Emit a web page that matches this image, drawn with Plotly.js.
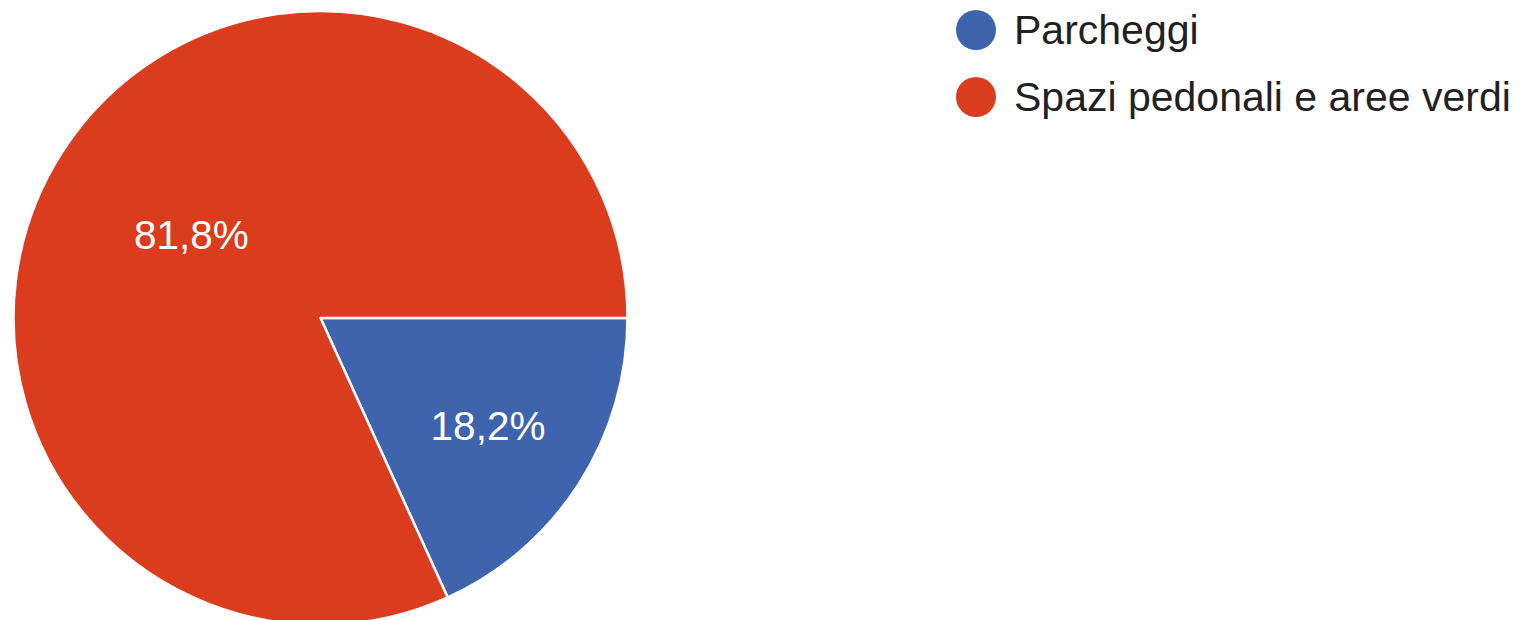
<!DOCTYPE html>
<html>
<head>
<meta charset="utf-8">
<script src="https://cdn.plot.ly/plotly-3.0.1.min.js"></script>
<style>
html, body { margin: 0; padding: 0; overflow: hidden; background: #fff; }
#chart { width: 1525px; height: 626px; }
</style>
</head>
<body>
<div id="chart"></div>
<script>
const labels = ["Parcheggi", "Spazi pedonali e aree verdi"];
const values = [18.2, 81.8];
const colors = ["#3d64ad", "#db3c1d"];

const sliceText = values.map(v => v.toFixed(1).replace('.', ',') + '%');

const W = 1525, H = 626;
const trace = {
  type: 'pie',
  labels: labels,
  values: values,
  text: sliceText,
  textinfo: 'text',
  textposition: 'inside',
  insidetextorientation: 'horizontal',
  sort: false,
  direction: 'clockwise',
  rotation: 90,
  marker: { colors: colors, line: { color: '#ffffff', width: 2.5 } },
  textfont: { family: 'Liberation Sans, Arial, sans-serif', size: 40.5, color: '#ffffff' },
  domain: { x: [13 / W, 628 / W], y: [1 - 625 / H, 1 - 11 / H] },
  showlegend: false,
  hoverinfo: 'label+percent'
};

const shapes = [];
const annotations = [];
const legendX = 976, legendY0 = 30, legendStep = 67, r = 20;
labels.forEach((lab, i) => {
  const cy = legendY0 + i * legendStep;
  shapes.push({
    type: 'circle', xref: 'paper', yref: 'paper',
    xsizemode: 'pixel', ysizemode: 'pixel',
    xanchor: legendX / W, yanchor: 1 - cy / H,
    x0: -r, x1: r, y0: -r, y1: r,
    fillcolor: colors[i], line: { width: 0 }
  });
  annotations.push({
    xref: 'paper', yref: 'paper',
    x: 1012 / W, y: 1 - cy / H,
    xanchor: 'left', yanchor: 'middle',
    text: lab, showarrow: false,
    font: { family: 'Liberation Sans, Arial, sans-serif', size: 41, color: '#212121' }
  });
});

const layout = {
  width: W, height: H,
  margin: { l: 0, r: 0, t: 0, b: 0 },
  paper_bgcolor: '#ffffff',
  showlegend: false,
  shapes: shapes,
  annotations: annotations
};

Plotly.newPlot('chart', [trace], layout, { displayModeBar: false, staticPlot: true });
</script>
</body>
</html>
